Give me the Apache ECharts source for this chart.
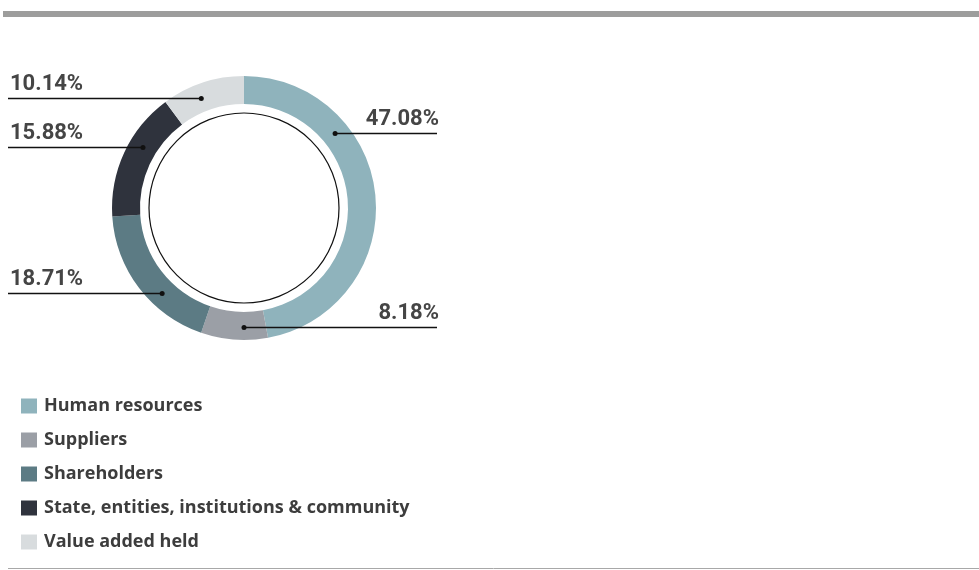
<!DOCTYPE html>
<html>
<head>
<meta charset="utf-8">
<script src="https://cdn.jsdelivr.net/npm/echarts@6/dist/echarts.min.js"></script>
<style>
html,body{margin:0;padding:0;background:#fff}
#chart{width:979px;height:570px}
</style>
</head>
<body>
<div id="chart"></div>
<script>
const categories = ['Human resources', 'Suppliers', 'Shareholders', 'State, entities, institutions & community', 'Value added held'];
const shares = [47.08, 8.18, 18.71, 15.88, 10.14];
const colors = ['#8fb3bc', '#9b9fa6', '#5c7b84', '#2f333d', '#d8dcde'];

// callout placement: which side the text goes and the height of its line
const callouts = [
  {side: 1, y: 133},
  {side: 1, y: 327},
  {side: -1, y: 293},
  {side: -1, y: 147},
  {side: -1, y: 98}
];
const cx = 244, cy = 208, rIn = 104, rOut = 132;
const rMid = (rIn + rOut) / 2;
const rightEnd = 437, leftEnd = 8;

// where the horizontal callout line meets the middle of the ring
function dotPoint(i) {
  const c = callouts[i];
  const dy = c.y - cy;
  const dx = Math.sqrt(Math.max(0, rMid * rMid - dy * dy));
  return [cx + c.side * dx, c.y];
}

const pieData = categories.map((name, i) => ({
  name: name,
  value: shares[i],
  itemStyle: {color: colors[i]}
}));

// callout lines drawn from the dot out to the text
const calloutLines = callouts.map((c, i) => {
  const dot = dotPoint(i);
  return {
    type: 'line',
    silent: true,
    z: 10,
    shape: {x1: dot[0], y1: c.y + 0.5, x2: c.side > 0 ? rightEnd : leftEnd, y2: c.y + 0.5},
    style: {stroke: '#111', lineWidth: 1.3}
  };
});

const chart = echarts.init(document.getElementById('chart'));
chart.setOption({
  animation: false,
  legend: {
    orient: 'vertical',
    left: 16,
    top: 392,
    icon: 'rect',
    itemWidth: 16,
    itemHeight: 15,
    itemGap: 16,
    selectedMode: false,
    data: categories,
    textStyle: {
      fontFamily: 'Open Sans',
      fontWeight: 'bold',
      fontSize: 18,
      color: '#3d3d3d',
      padding: [0, 0, 0, 2]
    }
  },
  graphic: [
    {type: 'rect', shape: {x: 3, y: 11, width: 976, height: 6}, style: {fill: '#9d9d9c'}, silent: true},
    {type: 'line', shape: {x1: 8, y1: 568.5, x2: 979, y2: 568.5}, style: {stroke: '#a8a8a8', lineWidth: 1}, silent: true},
    {type: 'circle', shape: {cx: cx, cy: cy, r: 95}, style: {fill: 'none', stroke: '#111', lineWidth: 1.2}, silent: true}
  ].concat(calloutLines),
  series: [
    {
      type: 'pie',
      center: [cx, cy],
      radius: [rIn, rOut],
      startAngle: 90,
      clockwise: true,
      silent: true,
      data: pieData,
      label: {
        show: true,
        overflow: 'none',
        width: 120,
        formatter: p => p.value.toFixed(2) + '%',
        fontFamily: 'Roboto',
        fontWeight: 'bold',
        fontSize: 22,
        color: '#454545'
      },
      labelLine: {show: false},
      labelLayout: function (params) {
        const c = callouts[params.dataIndex];
        return {
          x: c.side > 0 ? 439 : 10,
          y: c.y - 14,
          align: c.side > 0 ? 'right' : 'left',
          verticalAlign: 'middle'
        };
      }
    },
    {
      // invisible twin used only to draw the dots at the line starts
      type: 'pie',
      center: [cx, cy],
      radius: [rIn, rOut],
      startAngle: 90,
      clockwise: true,
      silent: true,
      z: 5,
      data: shares.map((v, i) => ({name: categories[i], value: v})),
      itemStyle: {color: 'rgba(0,0,0,0)'},
      label: {
        show: true,
        formatter: '{d|}',
        rich: {d: {width: 5, height: 5, borderRadius: 2.5, backgroundColor: '#111'}}
      },
      labelLine: {show: false},
      labelLayout: function (params) {
        const dot = dotPoint(params.dataIndex);
        return {x: dot[0], y: dot[1] + 0.5, align: 'center', verticalAlign: 'middle'};
      }
    }
  ]
});
</script>
</body>
</html>
